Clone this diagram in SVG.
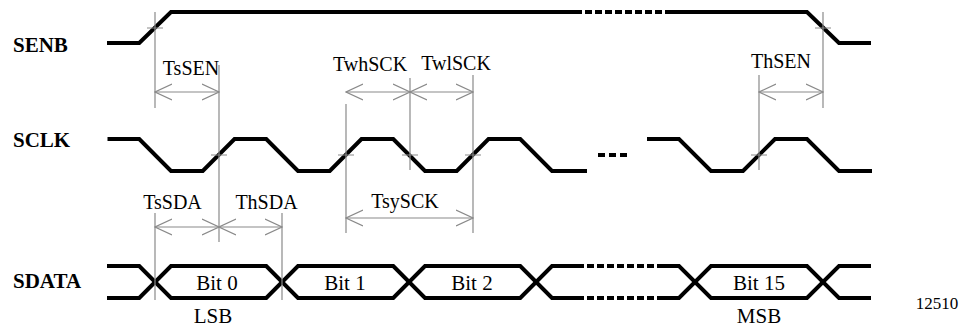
<svg xmlns="http://www.w3.org/2000/svg" width="966" height="329" viewBox="0 0 966 329">
<style>
.w{fill:none;stroke:#000;stroke-width:4;stroke-linejoin:miter}
.d{stroke-dasharray:7 3}
.g{fill:none;stroke:#8a8a8a;stroke-width:1.2}
.a{marker-start:url(#ah);marker-end:url(#ah)}
.t{font-family:"Liberation Serif","Times New Roman",serif;font-size:20px;fill:#000;text-anchor:middle}
.b{font-family:"Liberation Serif","Times New Roman",serif;font-size:21px;font-weight:bold;fill:#000}
.bt{font-size:21px}
</style>
<defs>
<marker id="ah" viewBox="0 0 18 18" refX="17" refY="9" markerWidth="18" markerHeight="18" markerUnits="userSpaceOnUse" orient="auto-start-reverse">
<path d="M0,1 L17,9 L0,17" fill="none" stroke="#8a8a8a" stroke-width="1.2"/>
</marker>
</defs>
<rect width="966" height="329" fill="#fff"/>

<g id="labels">
<text class="b" x="13" y="52">SENB</text>
<text class="b" x="13" y="147">SCLK</text>
<text class="b" x="13" y="288">SDATA</text>
</g>

<g id="senb">
<path class="w" d="M107,43 H139.25 L171,12 H575"/>
<path class="w d" d="M575,12 H665"/>
<path class="w" d="M665,12 H807 L839,43 H871"/>
</g>

<g id="sclk">
<path class="w" d="M107.5,139 H139.25 L171,171 H202.75 L234.5,139 H266.25 L298,171 H329.75 L361.5,139 H393.25 L425,171 H456.75 L488.5,139 H520.25 L552,171 H587"/>
<path class="w" d="M598,155 H627" style="stroke-dasharray:7 4"/>
<path class="w" d="M647,139 H679 L711,171 H743 L775,139 H807 L839,171 H872"/>
</g>

<g id="sdata">
<path class="w" d="M107,266 H139.25 L171,298 H266.25 L298,266 H393.25 L425,298 H520.25 L552,266 H577"/>
<path class="w" d="M107,298 H139.25 L171,266 H266.25 L298,298 H393.25 L425,266 H520.25 L552,298 H577"/>
<path class="w d" d="M577,266 H663 M577,298 H663"/>
<path class="w" d="M663,266 H679 L711,298 H807 L839,266 H871"/>
<path class="w" d="M663,298 H679 L711,266 H807 L839,298 H871"/>
<text class="t bt" x="217" y="290">Bit 0</text>
<text class="t bt" x="345" y="290">Bit 1</text>
<text class="t bt" x="472" y="290">Bit 2</text>
<text class="t bt" x="759" y="290">Bit 15</text>
<text class="t bt" x="213" y="323">LSB</text>
<text class="t bt" x="759" y="323">MSB</text>
</g>

<g id="connectors">
<!-- verticals -->
<path class="g" d="M155,12 V108 M155,213 V300 M219,65 V242 M282,213 V300 M346,104 V233 M410,78 V170 M473,75 V233 M759,75 V170 M823,12 V108"/>
<!-- crossing ticks -->
<path class="g" d="M147,28 H163 M815,28 H831 M211,155 H227 M338,155 H354 M402,155 H418 M465,155 H481 M751,155 H767"/>
<!-- dimension arrows -->
<path class="g a" d="M155,92 H219"/>
<path class="g a" d="M346,92 H410"/>
<path class="g a" d="M410,92 H473"/>
<path class="g a" d="M759,92 H823"/>
<path class="g a" d="M155,227 H219"/>
<path class="g a" d="M219,227 H282"/>
<path class="g a" d="M346,218 H473"/>
</g>

<g id="dimension-labels">
<text class="t" x="191" y="75">TsSEN</text>
<text class="t" x="370" y="71">TwhSCK</text>
<text class="t" x="456" y="70">TwlSCK</text>
<text class="t" x="781" y="68">ThSEN</text>
<text class="t" x="172.5" y="209">TsSDA</text>
<text class="t" x="266.5" y="209">ThSDA</text>
<text class="t" x="405" y="208">TsySCK</text>
</g>

<text x="937" y="309" style="font-family:'Liberation Serif','Times New Roman',serif;font-size:17px;text-anchor:middle">12510</text>
</svg>
